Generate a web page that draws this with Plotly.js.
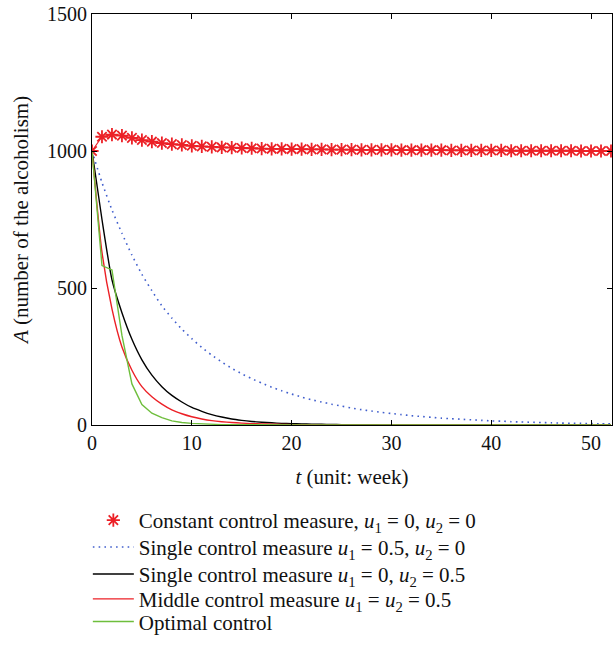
<!DOCTYPE html>
<html>
<head>
<meta charset="utf-8">
<script src="https://cdn.plot.ly/plotly-3.0.1.min.js"></script>
<style>html,body{margin:0;padding:0;background:#fff;}#chart{width:615px;height:646px;}</style>
</head>
<body>
<div id="chart"></div>
<script>
// time in weeks
var weeks = [0,1,2,3,4,5,6,7,8,9,10,11,12,13,14,15,16,17,18,19,20,21,22,23,24,25,26,27,28,29,30,31,32,33,34,35,36,37,38,39,40,41,42,43,44,45,46,47,48,49,50,51,52];

// Constant control measure, u1 = 0, u2 = 0
var constantCtrl = [1000,1052,1060,1056,1048,1040,1034,1029,1025,1022,1019,1017,1015,1013,1012,1011,1010,1009,1008,1008,1007,1007,1006,1006,1005,1005,1005,1004,1004,1004,1004,1003,1003,1003,1003,1003,1002,1002,1002,1002,1002,1002,1001,1001,1001,1001,1001,1001,1001,1000,1000,1000,1000];

// Single control measure u1 = 0.5, u2 = 0
var singleU1 = [1000,885,785,700,620,550,490,435,390,350,315,283,255,230,207,187,169,153,138,125,113,102,92,84,76,69,62,56,51,46,42,38,34,31,28,25,23,21,19,17,15,14,12,11,10,9,8,7,6.5,6,5,4.5,4];

// Single control measure u1 = 0, u2 = 0.5
var singleU2 = [1000,750,530,410,313,238,182,140,108,84,64,50,38,29,22,17,13,10,8,6,5,4,3,2.5,2,1.5,1.2,1,0.8,0.6,0.5,0.4,0.3,0.3,0.2,0.2,0.1,0.1,0.1,0.1,0,0,0,0,0,0,0,0,0,0,0,0,0];

// Middle control measure u1 = u2 = 0.5
var middleCtrl = [1000,630,424,285,200,140,103,76,55,41,30,22,16,12,9,7,5,4,3,2,1.5,1,0.8,0.6,0.4,0.3,0.2,0.2,0.1,0.1,0,0,0,0,0,0,0,0,0,0,0,0,0,0,0,0,0,0,0,0,0,0,0];

// Optimal control
var optimalCtrl = [1000,582,566,327,150,75,43,27,15,9,6,4,2.5,1.5,1,0.5,0.3,0.2,0.1,0,0,0,0,0,0,0,0,0,0,0,0,0,0,0,0,0,0,0,0,0,0,0,0,0,0,0,0,0,0,0,0,0,0];

var xTicks = [0,10,20,30,40,50];
var yTicks = [0,500,1000,1500];

var names = [
  'Constant control measure, <i>u</i><sub>1</sub> = 0, <i>u</i><sub>2</sub> = 0',
  'Single control measure <i>u</i><sub>1</sub> = 0.5, <i>u</i><sub>2</sub> = 0',
  'Single control measure <i>u</i><sub>1</sub> = 0, <i>u</i><sub>2</sub> = 0.5',
  'Middle control measure <i>u</i><sub>1</sub> = <i>u</i><sub>2</sub> = 0.5',
  'Optimal control'
];

var RED = 'rgb(236,32,38)';
var traces = [
  {x: weeks, y: constantCtrl, mode: 'lines', line: {color: RED, width: 1.2}, showlegend: false, hoverinfo: 'skip'},
  {x: weeks, y: constantCtrl, mode: 'markers', name: names[0], legend: 'legend', marker: {symbol: 'asterisk', size: 11, color: RED, line: {color: RED, width: 1.8}}},
  {x: weeks, y: singleU1, mode: 'lines', name: names[1], legend: 'legend2', line: {color: 'rgb(65,95,205)', width: 1.6, dash: '1.6px,4.2px', shape: 'spline', smoothing: 0.6}},
  {x: weeks, y: singleU2, mode: 'lines', name: names[2], legend: 'legend3', line: {color: '#000', width: 1.4, shape: 'spline', smoothing: 0.6}},
  {x: weeks, y: middleCtrl, mode: 'lines', name: names[3], legend: 'legend4', line: {color: RED, width: 1.4, shape: 'spline', smoothing: 0.6}},
  {x: weeks, y: optimalCtrl, mode: 'lines', name: names[4], legend: 'legend5', line: {color: 'rgb(110,190,60)', width: 1.4}}
];

var FONT = 'Liberation Serif, DejaVu Serif, serif';
function leg(yv, anchor) {
  return {
    x: -0.008, xanchor: 'left', y: yv, yanchor: anchor || 'middle',
    itemwidth: 41, font: {family: FONT, size: 21, color: '#111'},
    bgcolor: 'rgba(0,0,0,0)', itemclick: false, borderwidth: 0
  };
}
// plot area: top 14px, bottom 427px (height 413px); legend rows ~523,550,577,603,630 px
var layout = {
  width: 615, height: 646,
  margin: {l: 92, r: 3, t: 14, b: 219},
  paper_bgcolor: '#fff', plot_bgcolor: '#fff',
  font: {family: FONT, size: 20, color: '#111'},
  showlegend: true,
  legend: leg(-0.2324),
  legend2: leg(-0.2978),
  legend3: leg(-0.3632),
  legend4: leg(-0.4240),
  legend5: leg(-0.5290, 'bottom'),
  xaxis: {
    range: [0, 52.1], tickvals: xTicks, ticktext: xTicks.map(String),
    ticks: 'inside', ticklen: 5, tickcolor: '#000', tickwidth: 1,
    showline: true, linecolor: '#000', linewidth: 1, mirror: 'ticks',
    showgrid: false, zeroline: false,
    tickfont: {family: FONT, size: 20, color: '#111'},
    title: {text: '<i>t</i> (unit: week)', font: {family: FONT, size: 21, color: '#111'}, standoff: 16}
  },
  yaxis: {
    range: [0, 1500], tickvals: yTicks, ticktext: yTicks.map(String),
    ticks: 'inside', ticklen: 5, tickcolor: '#000', tickwidth: 1,
    showline: true, linecolor: '#000', linewidth: 1, mirror: 'ticks',
    showgrid: false, zeroline: false,
    tickfont: {family: FONT, size: 20, color: '#111'},
    title: {text: '<i>A</i> (number of the alcoholism)', font: {family: FONT, size: 21, color: '#111'}, standoff: 12}
  }
};

Plotly.newPlot('chart', traces, layout, {staticPlot: true, displayModeBar: false});
</script>
</body>
</html>
